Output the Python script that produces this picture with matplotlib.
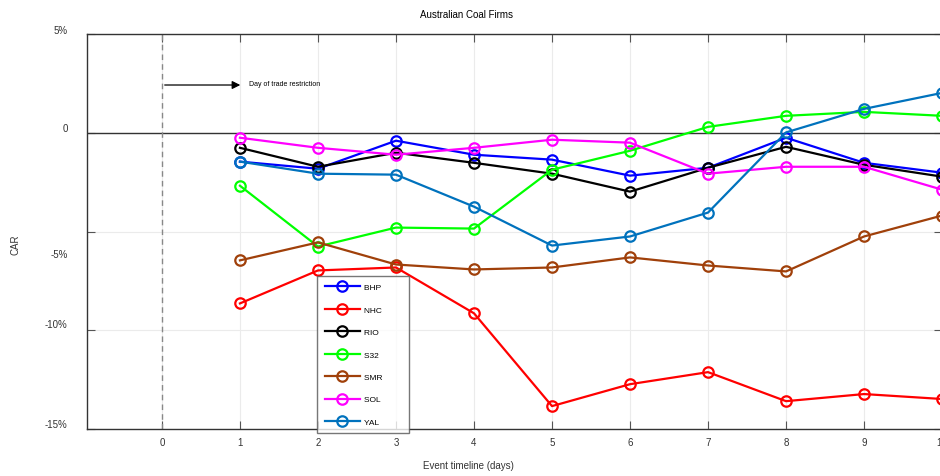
import numpy as np
import matplotlib
matplotlib.use("Agg")
from matplotlib import pyplot as plt

plt.rcParams['font.family'] = ['Liberation Sans', 'DejaVu Sans']

days = [1, 2, 3, 4, 5, 6, 7, 8, 9, 10]
firms = ['BHP', 'NHC', 'RIO', 'S32', 'SMR', 'SOL', 'YAL']
colors = ['#0000ff', '#ff0000', '#000000', '#00ff00', '#a0400a', '#ff00ff', '#0072bd']

bhp = [-1.46, -1.82, -0.40, -1.11, -1.36, -2.17, -1.77, -0.25, -1.52, -2.02]
nhc = [-8.64, -6.97, -6.82, -9.14, -13.84, -12.73, -12.12, -13.59, -13.23, -13.48]
rio = [-0.76, -1.72, -1.01, -1.52, -2.07, -2.98, -1.77, -0.71, -1.62, -2.22]
s32 = [-2.68, -5.76, -4.80, -4.85, -1.87, -0.91, 0.30, 0.86, 1.06, 0.86]
smr = [-6.46, -5.55, -6.67, -6.92, -6.82, -6.31, -6.72, -7.02, -5.25, -4.19]
sol = [-0.25, -0.76, -1.11, -0.76, -0.35, -0.50, -2.07, -1.72, -1.72, -2.88]
yal = [-1.46, -2.07, -2.12, -3.74, -5.71, -5.25, -4.04, 0.02, 1.21, 2.02]
series = [bhp, nhc, rio, s32, smr, sol, yal]

xticks = [0, 1, 2, 3, 4, 5, 6, 7, 8, 9, 10]
yticks = [5, 0, -5, -10, -15]
ylabels = ['5%', '0', '-5%', '-10%', '-15%']
# the y labels sit a bit off their ticks in the original
ylabel_pos = [5.2, 0.25, -6.15, -9.7, -14.75]

fig = plt.figure(figsize=(9.4, 4.77), dpi=100)
ax = fig.add_axes([0.0926, 0.0985, 0.9096, 0.828])

for name, vals, c in zip(firms, series, colors):
    ax.plot(days, vals, '-o', color=c, lw=1.6, ms=7.5, mfc='none', mew=1.6,
            label=name + '        ')

ax.set_xlim(-0.96, 10)
ax.set_ylim(-15, 5)
ax.set_xticks(xticks)
ax.set_xticklabels([str(t) for t in xticks], fontsize=7, color='#333333')
ax.set_yticks(yticks)
ax.set_yticklabels([])
for lab, yp in zip(ylabels, ylabel_pos):
    ax.text(-1.21, yp, lab, ha='right', va='center', fontsize=7,
            color='#333333', clip_on=False)

ax.tick_params(direction='in', length=6, width=0.8, top=True, right=True, color='#555555', pad=6)
ax.grid(True, color='#ebebeb', lw=0.8)
ax.set_axisbelow(True)
for s in ax.spines.values():
    s.set_color('#333333')
    s.set_linewidth(1.0)

ax.axhline(0, color='#333333', lw=1.0, zorder=1)
ax.axvline(0, color='#888888', lw=1.0, ls=(0, (4, 3)), zorder=1)

ax.annotate('', xy=(1.04, 2.42), xytext=(0, 2.42),
            arrowprops=dict(arrowstyle='-|>', color='black', lw=0.9, mutation_scale=12))
ax.text(1.12, 2.5, 'Day of trade restriction', fontsize=5, va='center', ha='left')

fig.text(0.496, 0.968, 'Australian Coal Firms', fontsize=7, ha='center', va='center')
fig.text(0.498, 0.023, 'Event timeline (days)', fontsize=7, ha='center', va='center', color='#333333')
fig.text(0.016, 0.486, 'CAR', fontsize=7, ha='center', va='center', rotation=90, color='#333333')

leg = ax.legend(loc='upper left', bbox_to_anchor=(317 / 940, 1 - 277 / 477),
                bbox_transform=fig.transFigure, fontsize=6, frameon=True, fancybox=False,
                edgecolor='#555555', handlelength=4.2, labelspacing=1.75, borderpad=0.9,
                handletextpad=0.5, borderaxespad=0)
leg.get_frame().set_linewidth(1.0)
leg.set_zorder(5)

fig.savefig('out.png', dpi=100)
